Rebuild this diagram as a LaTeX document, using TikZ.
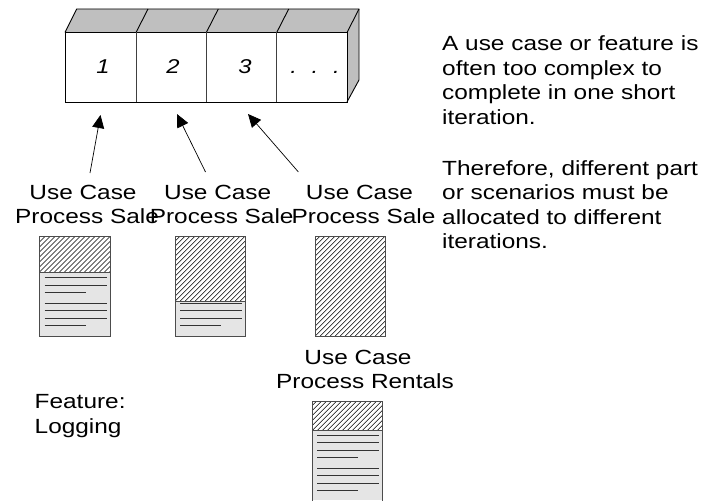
\documentclass[tikz,border=0pt]{standalone}
\usepackage{graphicx}
\usepackage{fontspec}
\setmainfont{Liberation Sans}
\usetikzlibrary{arrows.meta}
\newcommand{\st}[1]{\scalebox{1.19}[1]{#1}}
\tikzset{
  x=1pt,y=-1pt,
  lbl/.style={font=\fontsize{20.5}{24}\selectfont,align=center,inner sep=0pt,anchor=center},
  note/.style={font=\fontsize{20.5}{24.6}\selectfont,align=left,inner sep=0pt,anchor=north west},
  num/.style={font=\fontsize{20}{24}\selectfont\itshape,inner sep=0pt,anchor=base},
  cube/.style={draw=black,line width=0.9pt},
  arr/.style={draw=black,line width=0.7pt,-{Triangle[length=13pt,width=12pt]}},
  docbox/.style={draw=black!70,line width=1pt},
  txt/.style={draw=black!80,line width=0.8pt},
}
\newcommand{\hatchfill}[4]{%
  \begin{scope}
    \clip (#1,#2) rectangle (#3,#4);
    \foreach \i in {-120,-115,...,100}{
      \draw[black,line width=0.6pt] (#1+\i,#4) -- (#1+\i+120,#4-120);
    }
  \end{scope}}
\newcommand{\doclines}[3]{%
  \foreach \yy/\xe in {#3}{\draw[txt] (#1+5,\yy) -- (#1+\xe,\yy);}}
\begin{document}
\begin{tikzpicture}
\useasboundingbox (0,0) rectangle (708,500);
\clip (0,0) rectangle (708,500);
% iteration strip
\fill[black!25] (65,32.5) -- (76.7,9) -- (359,9) -- (347,32.5) -- cycle;
\fill[black!25] (347,32.5) -- (359,9) -- (359,80) -- (347,102) -- cycle;
\draw[cube] (65,32.5) rectangle (347,102);
\draw[cube] (65,32.5) -- (76.7,9) -- (359,9) -- (359,80) -- (347,102);
\draw[cube] (347,32.5) -- (359,9);
\draw[cube] (136,32.5) -- (148,9);
\draw[cube] (206.3,32.5) -- (218.3,9);
\draw[cube] (276.7,32.5) -- (288.7,9);
\draw[line width=0.9pt,black!75] (136,32.5) -- (136,102) (206.3,32.5) -- (206.3,102) (276.7,32.5) -- (276.7,102);
\node[num] (n1) at (103,73.3) {\st{1}};
\node[num] (n2) at (173,73.3) {\st{2}};
\node[num] (n3) at (245,73.3) {\st{3}};
\node[num] (n4) at (315,73.3) {\st{.\hspace{0.62em}.\hspace{0.62em}.}};
% labels
\node[lbl] (l1) at (87,204.5) {\st{Use Case}\hspace*{8pt}\\\st{Process Sale}};
\node[lbl] (l2) at (221.7,204.5) {\st{Use Case}\hspace*{8pt}\\\st{Process Sale}};
\node[lbl] (l3) at (363.5,204.5) {\st{Use Case}\hspace*{8pt}\\\st{Process Sale}};
\node[lbl] (l4) at (365,369) {\st{Use Case}\hspace*{14pt}\\\st{Process Rentals}};
\node[note] (feat) at (34.5,394.3) {\st{Feature:}\\\st{Logging}};
\node[note] (t1) at (442,35.7) {\st{A use case or feature is}\\\st{often too complex to}\\\st{complete in one short}\\\st{iteration.}};
\node[note] (t2) at (442,160) {\st{Therefore, different part}\\\st{or scenarios must be}\\\st{allocated to different}\\\st{iterations.}};
% arrows
\coordinate (a1) at (100.5,115);
\coordinate (a2) at (177,114);
\coordinate (a3) at (248,114);
\coordinate (s1) at (90,173);
\coordinate (s2) at (205.5,172);
\coordinate (s3) at (298.4,172);
\draw[arr] (s1) -- (a1);
\draw[arr] (s2) -- (a2);
\draw[arr] (s3) -- (a3);
% doc 1
\fill[black!10] (39.5,272) rectangle (110,336);
\hatchfill{39.5}{236.7}{110}{272}
\doclines{39.5}{0}{277.7/67,285.7/67,292.7/46,303/67,310/67,318/67,325/46}
\draw[docbox] (39.5,236.7) rectangle (110,336);
\draw[docbox] (39.5,272) -- (110,272);
% doc 2
\fill[black!10] (175.3,301) rectangle (245.7,336);
\hatchfill{175.3}{236.7}{245.7}{301}
\doclines{175.3}{0}{303/67,310/67,318/67,325/46}
\draw[docbox] (175.3,236.7) rectangle (245.7,336);
\draw[docbox] (175.3,301) -- (245.7,301);
% doc 3
\hatchfill{315.3}{236.7}{385.7}{336}
\draw[docbox] (315.3,236.7) rectangle (385.7,336);
% doc 4
\fill[black!10] (312,430.7) rectangle (382.7,500);
\hatchfill{312}{401}{382.7}{430.7}
\doclines{312}{0}{435.7/67,442.3/67,450/67,457/46,468/67,475/67,483/67,490/46}
\draw[docbox] (312,510) -- (312,401) -- (382.7,401) -- (382.7,510);
\draw[docbox] (312,430.7) -- (382.7,430.7);
\end{tikzpicture}
\end{document}
